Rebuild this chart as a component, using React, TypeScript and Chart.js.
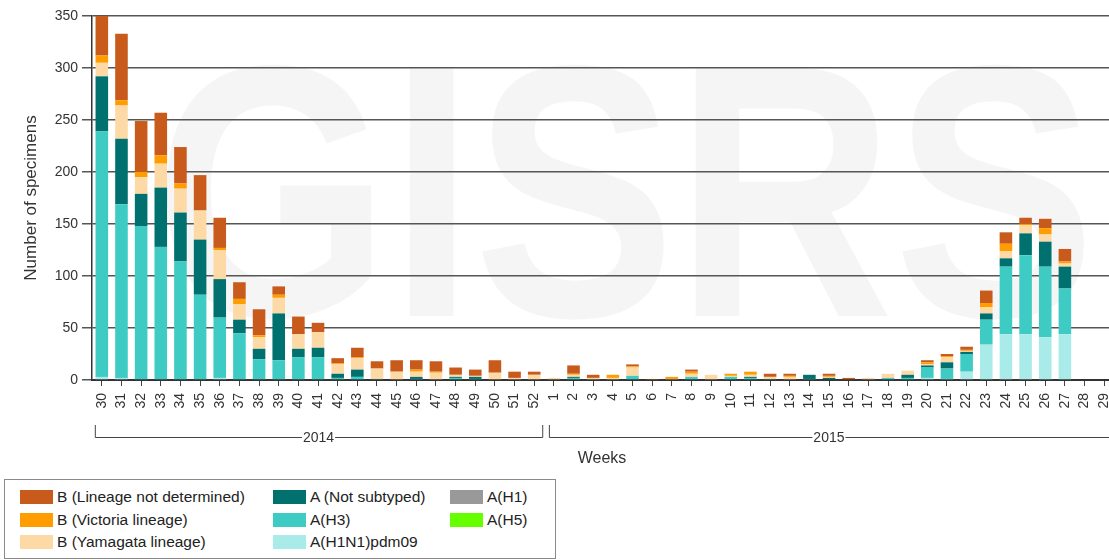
import React, { useEffect, useRef } from "react";
import { Chart, registerables } from "chart.js";

Chart.register(...registerables);

const weeks: string[] = [
  "30","31","32","33","34","35","36","37","38","39","40","41","42","43","44","45","46","47","48","49","50","51","52",
  "1","2","3","4","5","6","7","8","9","10","11","12","13","14","15","16","17","18","19","20","21","22","23","24","25","26","27","28","29",
];

const h1n1pdm09: number[] = [
  3,2,0,0,0,0,2,0,0,0,0,0,0,0,0,0,0,0,0,0,0,0,0,
  0,0,0,0,0,0,0,0,0,0,0,0,0,0,0,0,0,0,0,2,1,8,34,44,44,41,44,0,0,
];
const h3: number[] = [
  236,167,148,128,114,82,58,45,20,19,22,22,2,3,1,0,1,0,2,1,0,0,0,
  0,2,0,0,4,0,0,3,0,3,2,1,0,1,0,0,0,2,2,10,10,17,24,65,76,68,44,0,0,
];
const notSubtyped: number[] = [
  53,63,31,57,47,53,37,13,10,45,8,9,4,7,0,0,2,0,1,2,0,0,0,
  0,1,0,0,0,0,0,0,0,0,1,0,0,4,2,0,0,0,3,2,6,2,6,8,21,24,21,0,0,
];
const yamagata: number[] = [
  13,32,16,23,23,28,28,15,11,15,14,15,9,11,10,8,5,7,2,1,7,2,5,
  2,2,2,2,8,0,1,3,5,1,2,2,3,0,1,0,2,4,4,1,5,1,6,7,8,7,3,0,0,
];
const victoria: number[] = [
  7,5,5,8,5,0,2,5,2,3,0,0,1,1,0,0,2,1,0,0,0,0,0,
  0,1,0,3,1,1,2,2,0,2,3,0,1,0,1,0,0,0,0,2,1,1,4,7,1,6,2,0,0,
];
const lineageNotDetermined: number[] = [
  38,64,49,41,35,34,29,16,25,8,17,9,5,9,7,11,9,10,7,6,12,6,3,
  0,8,3,0,2,0,0,2,0,0,0,3,2,0,2,2,0,0,0,2,2,3,12,11,6,9,12,0,0,
];
const h1: number[] = weeks.map(() => 0);
const h5: number[] = weeks.map(() => 0);

const yTicks: number[] = [0, 50, 100, 150, 200, 250, 300, 350];
const yearLabels: string[] = ["2014", "2015"];

const COLORS = {
  bnd: "#c85a1c",
  vic: "#ff9c00",
  yam: "#fdd9a6",
  ns: "#00716e",
  h3: "#3ecbc4",
  pdm: "#a9ebe9",
  h1: "#999999",
  h5: "#66ff00",
};

const FONT = "'Liberation Sans', Arial, sans-serif";

const legendItems: { label: string; color: string }[][] = [
  [
    { label: "B (Lineage not determined)", color: COLORS.bnd },
    { label: "B (Victoria lineage)", color: COLORS.vic },
    { label: "B (Yamagata lineage)", color: COLORS.yam },
  ],
  [
    { label: "A (Not subtyped)", color: COLORS.ns },
    { label: "A(H3)", color: COLORS.h3 },
    { label: "A(H1N1)pdm09", color: COLORS.pdm },
  ],
  [
    { label: "A(H1)", color: COLORS.h1 },
    { label: "A(H5)", color: COLORS.h5 },
  ],
];

const decorPlugin = {
  id: "decor",
  beforeDraw(chart: any) {
    const ctx = chart.ctx;
    ctx.save();
    ctx.fillStyle = "#f5f5f5";
    ctx.font = `bold 360px ${FONT}`;
    ctx.textAlign = "center";
    ctx.textBaseline = "alphabetic";
    ctx.translate(625, 316);
    ctx.scale(0.84, 1);
    ctx.fillText("GISRS", 0, 0);
    ctx.restore();
  },
  afterDraw(chart: any) {
    const ctx = chart.ctx;
    const xs = chart.scales.x;
    const area = chart.chartArea;
    ctx.save();
    ctx.fillStyle = "#333";
    ctx.font = `17px ${FONT}`;
    ctx.textAlign = "center";
    ctx.textBaseline = "middle";
    ctx.translate(31, (area.top + area.bottom) / 2);
    ctx.rotate(-Math.PI / 2);
    ctx.fillText("Number of specimens", 0, 0);
    ctx.restore();

    ctx.save();
    const lastIdx2014 = weeks.indexOf("52");
    const x0 = xs.getPixelForValue(0) - 7;
    const x1 = xs.getPixelForValue(lastIdx2014) + 8;
    const x2 = xs.getPixelForValue(lastIdx2014 + 1) - 5;
    const x3 = Math.min(area.right, 1109);
    const yTop = 425;
    const yLine = 437;
    ctx.strokeStyle = "#444";
    ctx.lineWidth = 1;
    ctx.font = `14px ${FONT}`;
    ctx.fillStyle = "#333";
    ctx.textAlign = "center";
    ctx.textBaseline = "middle";
    const bracket = (a: number, b: number, label: string, closeRight: boolean) => {
      const mid = (a + b) / 2;
      const tw = ctx.measureText(label).width + 2;
      ctx.beginPath();
      ctx.moveTo(a + 0.5, yTop);
      ctx.lineTo(a + 0.5, yLine + 0.5);
      ctx.lineTo(mid - tw / 2, yLine + 0.5);
      ctx.moveTo(mid + tw / 2, yLine + 0.5);
      ctx.lineTo(b + 0.5, yLine + 0.5);
      if (closeRight) ctx.lineTo(b + 0.5, yTop);
      ctx.stroke();
      ctx.fillText(label, mid, yLine + 1);
    };
    bracket(x0, x1, yearLabels[0], true);
    bracket(x2, x3, yearLabels[1], false);

    ctx.font = `16px ${FONT}`;
    ctx.fillText("Weeks", (95 + 1109) / 2, 459);
    ctx.restore();
  },
};

export default function App() {
  const canvasRef = useRef<HTMLCanvasElement | null>(null);

  useEffect(() => {
    if (!canvasRef.current) return;
    const mk = (label: string, data: number[], color: string) => ({
      label,
      data,
      backgroundColor: color,
      borderWidth: 0,
      barPercentage: 0.8,
      categoryPercentage: 0.8,
    });
    const chart = new Chart(canvasRef.current, {
      type: "bar",
      data: {
        labels: weeks,
        datasets: [
          mk("A(H1N1)pdm09", h1n1pdm09, COLORS.pdm),
          mk("A(H1)", h1, COLORS.h1),
          mk("A(H5)", h5, COLORS.h5),
          mk("A(H3)", h3, COLORS.h3),
          mk("A (Not subtyped)", notSubtyped, COLORS.ns),
          mk("B (Yamagata lineage)", yamagata, COLORS.yam),
          mk("B (Victoria lineage)", victoria, COLORS.vic),
          mk("B (Lineage not determined)", lineageNotDetermined, COLORS.bnd),
        ],
      },
      options: {
        responsive: false,
        animation: false,
        layout: { padding: { top: 16, left: 0, right: 0, bottom: 0 } },
        plugins: {
          legend: { display: false },
          tooltip: { enabled: false },
        },
        scales: {
          x: {
            stacked: true,
            offset: true,
            grid: {
              display: true,
              drawOnChartArea: false,
              drawTicks: true,
              tickLength: 6,
              offset: false,
              color: "#444",
            },
            border: { color: "#333", width: 2 },
            ticks: {
              autoSkip: false,
              maxRotation: 90,
              minRotation: 90,
              padding: 7,
              color: "#333",
              font: { size: 14, family: FONT },
            },
            afterFit: (s: any) => {
              s.height = 90;
            },
          },
          y: {
            stacked: true,
            min: 0,
            max: 350,
            afterBuildTicks: (s: any) => {
              s.ticks = yTicks.map((v) => ({ value: v }));
            },
            grid: { color: "#555", lineWidth: 1.5, tickLength: 10 },
            border: { color: "#333", width: 1.5 },
            ticks: {
              padding: 4,
              color: "#333",
              font: { size: 14, family: FONT },
            },
            afterFit: (s: any) => {
              s.width = 92;
            },
          },
        },
      },
      plugins: [decorPlugin],
    });
    return () => chart.destroy();
  }, []);

  return (
    <div
      style={{
        position: "absolute",
        left: 0,
        top: 0,
        width: 1109,
        height: 560,
        overflow: "hidden",
        background: "#fff",
        fontFamily: FONT,
      }}
    >
      <canvas ref={canvasRef} width={1128} height={470} style={{ display: "block" }} />
      <div
        style={{
          position: "absolute",
          left: 4,
          top: 479,
          width: 552,
          height: 80,
          border: "1px solid #8a8a8a",
          boxSizing: "border-box",
        }}
      >
        {legendItems.map((col, ci) => (
          <div
            key={ci}
            style={{
              position: "absolute",
              left: [15, 268, 445][ci],
              top: 6,
            }}
          >
            {col.map((it, ri) => (
              <div
                key={ri}
                style={{
                  display: "flex",
                  alignItems: "center",
                  height: 22.5,
                  fontSize: 15.5,
                  color: "#222",
                  whiteSpace: "nowrap",
                }}
              >
                <span
                  style={{
                    display: "inline-block",
                    width: 33,
                    height: 14,
                    background: it.color,
                    marginRight: 4,
                  }}
                />
                {it.label}
              </div>
            ))}
          </div>
        ))}
      </div>
    </div>
  );
}
